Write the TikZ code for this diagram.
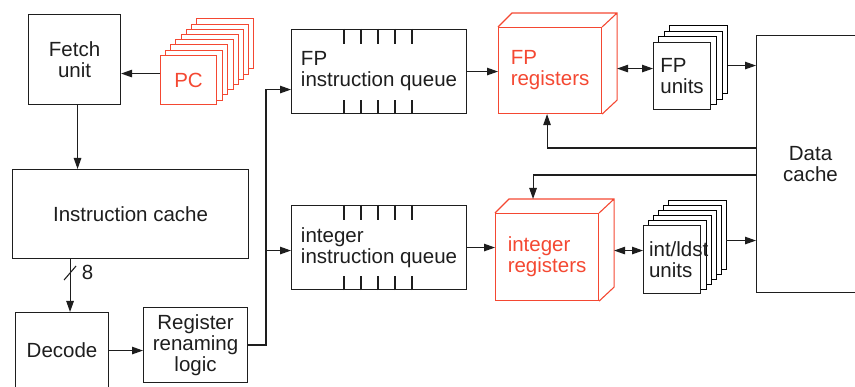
\documentclass[tikz,border=0pt]{standalone}
\usepackage{fontspec}
\setmainfont{Liberation Sans}
\usetikzlibrary{calc,arrows.meta,backgrounds}
\definecolor{regred}{RGB}{244,72,50}
\definecolor{ink}{RGB}{30,30,30}
\tikzset{
  blk/.style={draw,anchor=north west,inner sep=0pt,align=center},
  regblk/.style={blk,draw=regred,text=regred,align=left},
  arr/.style={-{Triangle[length=11pt,width=7.5pt]}},
  dblarr/.style={{Triangle[length=11pt,width=7.5pt]}-{Triangle[length=11pt,width=7.5pt]}}
}
\newcommand\regdepth[1]{\draw[regred] (#1.north west) -- ++(14,-14) -| ($(#1.south east)+(15,-14)$) -- (#1.south east) (#1.north east) -- ++(15,-14);}

\begin{document}
\begin{tikzpicture}[x=1pt,y=-1pt,line width=1.1pt,draw=ink,text=ink,font=\fontsize{20.5}{21}\selectfont]
\useasboundingbox (0,0) rectangle (855,387);
\node[blk,minimum width=92pt,minimum height=90pt] (fetch) at (28,14) {Fetch\\unit};
\node[blk,fill=white,draw=regred,text=regred,minimum width=56pt,minimum height=49pt] (pc) at (160,55) {PC};
\node[blk,minimum width=236pt,minimum height=89pt] (icache) at (12,169) {Instruction cache};
\node[blk,minimum width=93pt,minimum height=76pt] (decode) at (15,312) {Decode};
\node[blk,minimum width=104pt,minimum height=75pt] (rename) at (143,307) {Register\\renaming\\logic};
\node[blk,align=left,minimum width=175pt,minimum height=84pt] (fpq) at (291,29) {FP\\instruction queue};
\node[blk,align=left,minimum width=175pt,minimum height=84pt] (intq) at (291,205) {integer\\instruction queue};
\node[regblk,minimum width=103pt,minimum height=86pt] (fpreg) at (498,27) {FP\\registers};
\node[regblk,minimum width=103pt,minimum height=87pt] (intreg) at (495,213) {integer\\registers};
\node[blk,fill=white,align=left,minimum width=57pt,minimum height=67pt] (fpu) at (653,42) {FP\\units};
\node[blk,fill=white,align=left,text width=46pt,inner xsep=5.5pt,minimum height=68pt] (intu) at (643,225) {\mbox{int/ldst}\\units};
\node[blk,minimum width=108pt,minimum height=257pt] (dcache) at (756,35) {Data\\cache};
\regdepth{fpreg}
\regdepth{intreg}
\begin{scope}[on background layer]
\foreach \k in {7,...,1}
  \draw[regred,fill=white] ($(pc.north west)+(5.2*\k,-5.2*\k)$) rectangle ($(pc.south east)+(5.2*\k,-5.2*\k)$);
\foreach \k in {3,2,1}
  \draw[fill=white] ($(fpu.north west)+(5.5*\k,-5.5*\k)$) rectangle ($(fpu.south east)+(5.5*\k,-5.5*\k)$);
\foreach \k in {5,...,1}
  \draw[fill=white] ($(intu.north west)+(5*\k,-5*\k)$) rectangle ($(intu.south east)+(5*\k,-5*\k)$);
\end{scope}
\foreach \t in {53,70,87,104,121}{
  \draw ($(fpq.north west)+(\t,0)$) -- ++(0,15) ($(fpq.south west)+(\t,0)$) -- ++(0,-14);
  \draw ($(intq.north west)+(\t,0)$) -- ++(0,15) ($(intq.south west)+(\t,0)$) -- ++(0,-14);
}
\coordinate (pcout) at ($(pc.west)+(0,-6.5)$);
\draw[arr] (pcout) -- (pcout -| fetch.east);
\draw[arr] ([xshift=3pt]fetch.south) -- ([xshift=3pt]fetch.south |- icache.north);
\draw[arr] ([xshift=8pt]decode.north |- icache.south) -- ([xshift=8pt]decode.north);
\path ([xshift=8pt]decode.north) ++(0,-39) coordinate (bus8);
\draw ($(bus8)+(-6,7)$) -- ($(bus8)+(6,-7)$);
\node[right] (width8) at ($(bus8)+(8,-1)$) {8};
\draw[arr] (decode.east) -- (decode.east -| rename.west);
\draw[arr] (rename.east) -| ($(fpq.west)+(-25,18)$) -- ($(fpq.west)+(0,18)$);
\draw[arr] ($(intq.west)+(-25,3)$) -- ($(intq.west)+(0,3)$);
\draw[arr] (fpq.east) -- (fpq.east -| fpreg.west);
\draw[arr] (intq.east) -- (intq.east -| intreg.west);
\coordinate (fpregout) at ($(fpreg.east)+(15,-2)$);
\draw[dblarr] (fpregout) -- (fpregout -| fpu.west);
\coordinate (intregout) at ($(intreg.east)+(15,-6.5)$);
\draw[dblarr] (intregout) -- (intregout -| intu.west);
\coordinate (fpuout) at ($(fpu.east)+(16.5,-10.5)$);
\draw[arr] (fpuout) -- (fpuout -| dcache.west);
\coordinate (intuout) at ($(intu.east)+(25,-19)$);
\draw[arr] (intuout) -- (intuout -| dcache.west);
\draw[arr] ($(dcache.north west)+(0,113)$) -| ([xshift=-3pt]fpreg.south);
\draw[arr] ($(dcache.north west)+(0,140)$) -| ($(intreg.north)+(-14,-14)$);
\end{tikzpicture}
\end{document}
